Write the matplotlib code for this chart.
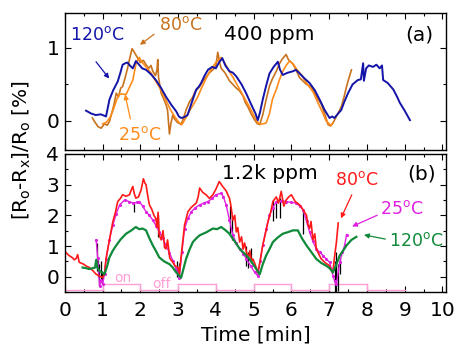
import matplotlib
matplotlib.use("Agg")
import matplotlib.pyplot as plt
from matplotlib.ticker import MultipleLocator

plt.rcParams['font.family'] = ['DejaVu Sans']
plt.rcParams['mathtext.fontset'] = 'dejavusans'

# ---------------- data: panel (a) 400 ppm ----------------
t_a120 = [0.56, 0.70, 0.82, 0.95, 1.05, 1.09, 1.18, 1.28, 1.40, 1.47, 1.53, 1.60, 1.66, 1.72, 1.80, 1.88,
          1.95, 2.05, 2.15, 2.28, 2.41, 2.55, 2.68, 2.82, 2.95, 3.02, 3.08, 3.16, 3.25, 3.36, 3.48, 3.55,
          3.61, 3.70, 3.79, 3.90, 4.00, 4.08, 4.17, 4.25, 4.36, 4.45, 4.54, 4.68, 4.80, 4.94, 5.05, 5.11,
          5.17, 5.24, 5.33, 5.42, 5.53, 5.64, 5.70, 5.77, 5.90, 6.04, 6.12, 6.22, 6.35, 6.48, 6.62, 6.75,
          6.88, 7.01, 7.08, 7.14, 7.22, 7.32, 7.40, 7.50, 7.62, 7.76, 7.84, 7.90, 7.92, 7.98, 8.05, 8.16,
          8.25, 8.34, 8.40, 8.43, 8.55, 8.70, 8.80, 8.87, 9.00, 9.14]
v_a120 = [0.14, 0.10, 0.08, 0.09, 0.07, 0.06, 0.29, 0.42, 0.54, 0.66, 0.77, 0.79, 0.80, 0.76, 0.72, 0.82,
          0.78, 0.72, 0.70, 0.64, 0.56, 0.45, 0.33, 0.22, 0.13, 0.06, 0.04, 0.05, 0.08, 0.25, 0.43, 0.47,
          0.52, 0.62, 0.70, 0.74, 0.72, 0.80, 0.86, 0.76, 0.68, 0.66, 0.61, 0.50, 0.38, 0.22, 0.10, 0.01,
          0.12, 0.29, 0.48, 0.65, 0.74, 0.81, 0.70, 0.63, 0.66, 0.68, 0.70, 0.65, 0.58, 0.52, 0.42, 0.29,
          0.15, 0.04, 0.06, 0.04, 0.09, 0.15, 0.26, 0.38, 0.50, 0.56, 0.57, 0.79, 0.55, 0.72, 0.76, 0.74,
          0.77, 0.72, 0.76, 0.56, 0.52, 0.43, 0.33, 0.25, 0.14, 0.01]

t_a80 = [0.73, 0.80, 0.88, 0.96, 1.05, 1.12, 1.18, 1.25, 1.30, 1.36, 1.42, 1.48, 1.53, 1.60, 1.66, 1.71,
         1.78, 1.84, 1.93, 2.00, 2.08, 2.15, 2.22, 2.28, 2.33, 2.40, 2.44, 2.46, 2.48, 2.55, 2.62, 2.68,
         2.72, 2.77, 2.81, 2.86, 2.90, 2.98, 3.08, 3.15, 3.21, 3.30, 3.38, 3.45, 3.57, 3.66, 3.74, 3.83,
         3.92, 4.00, 4.05, 4.10, 4.14, 4.24, 4.36, 4.45, 4.52, 4.63, 4.72, 4.78, 4.85, 4.95, 5.03, 5.10,
         5.16, 5.24, 5.33, 5.42, 5.50, 5.60, 5.68, 5.76, 5.86, 5.92, 6.04, 6.12, 6.22, 6.30, 6.40, 6.53,
         6.62, 6.70, 6.79, 6.88, 6.97, 7.04, 7.10, 7.18, 7.25, 7.32, 7.40, 7.46, 7.52, 7.59]
v_a80 = [0.04, -0.02, -0.08, -0.10, -0.04, -0.06, -0.01, 0.12, 0.22, 0.38, 0.33, 0.45, 0.47, 0.60, 0.72, 0.84,
         0.99, 0.94, 0.86, 0.80, 0.83, 0.77, 0.72, 0.76, 0.68, 0.62, 0.70, 0.84, 0.60, 0.38, 0.30, 0.22,
         0.15, -0.18, -0.03, 0.08, 0.03, -0.02, -0.05, 0.05, 0.15, 0.26, 0.32, 0.40, 0.47, 0.55, 0.60, 0.66,
         0.70, 0.76, 0.94, 0.80, 0.72, 0.66, 0.55, 0.50, 0.46, 0.41, 0.34, 0.25, 0.19, 0.08, 0.01, -0.04,
         -0.05, 0.08, 0.29, 0.48, 0.58, 0.68, 0.78, 0.85, 0.91, 0.84, 0.78, 0.70, 0.59, 0.55, 0.50, 0.47,
         0.38, 0.30, 0.23, 0.10, -0.05, -0.07, -0.03, 0.05, 0.12, 0.19, 0.34, 0.47, 0.58, 0.70]

t_a25 = [1.00, 1.10, 1.20, 1.30, 1.38, 1.44, 1.52, 1.62, 1.70, 1.80, 1.89, 1.97, 2.05, 2.15, 2.28, 2.40,
         2.55, 2.68, 2.80, 2.92, 3.02, 3.10, 3.18, 3.28, 3.40, 3.52, 3.62, 3.74, 3.86, 4.00, 4.14, 4.25,
         4.35, 4.45, 4.60, 4.75, 4.88, 4.98, 5.08, 5.16, 5.24, 5.33, 5.42, 5.50, 5.60, 5.68, 5.77, 5.86,
         5.95, 6.05, 6.15, 6.28, 6.40, 6.57, 6.70, 6.82, 6.92, 7.00, 7.05, 7.10]
v_a25 = [-0.04, -0.02, 0.05, 0.18, 0.30, 0.36, 0.37, 0.36, 0.45, 0.56, 0.80, 0.87, 0.80, 0.74, 0.66, 0.55,
         0.42, 0.28, 0.15, 0.05, -0.02, -0.05, 0.02, 0.12, 0.22, 0.33, 0.45, 0.58, 0.70, 0.80, 0.87, 0.78,
         0.68, 0.60, 0.46, 0.32, 0.20, 0.10, 0.00, -0.05, -0.04, -0.03, 0.10, 0.30, 0.43, 0.56, 0.68, 0.76,
         0.82, 0.78, 0.70, 0.62, 0.52, 0.40, 0.25, 0.12, 0.00, -0.04, -0.06, -0.03]

# ---------------- data: panel (b) 1.2k ppm ----------------
t_b80 = [0.00, 0.10, 0.20, 0.25, 0.30, 0.34, 0.38, 0.48, 0.58, 0.65, 0.74, 0.83, 0.92, 1.00, 1.05, 1.09,
         1.18, 1.27, 1.34, 1.40, 1.47, 1.53, 1.62, 1.71, 1.75, 1.80, 1.84, 1.88, 1.95, 2.02, 2.08, 2.12,
         2.15, 2.20, 2.24, 2.30, 2.36, 2.41, 2.44, 2.47, 2.50, 2.55, 2.60, 2.64, 2.68, 2.72, 2.78, 2.86,
         2.92, 3.00, 3.03, 3.10, 3.17, 3.26, 3.34, 3.42, 3.48, 3.53, 3.57, 3.65, 3.74, 3.83, 3.92, 4.00,
         4.09, 4.18, 4.27, 4.36, 4.40, 4.45, 4.50, 4.54, 4.58, 4.63, 4.68, 4.72, 4.76, 4.81, 4.86, 4.90,
         4.94, 4.98, 5.04, 5.11, 5.17, 5.24, 5.31, 5.38, 5.45, 5.51, 5.60, 5.66, 5.73, 5.80, 5.86, 5.93,
         6.00, 6.10, 6.22, 6.30, 6.40, 6.44, 6.48, 6.52, 6.57, 6.62, 6.66, 6.72, 6.78, 6.84, 6.90, 6.96,
         7.01, 7.06, 7.10, 7.14, 7.19, 7.24]
v_b80 = [0.83, 0.70, 0.62, 0.55, 0.60, 0.72, 0.47, 0.42, 0.34, 0.30, 0.20, 0.08, 0.02, -0.03, 0.10, 0.58,
         1.20, 1.79, 2.10, 2.45, 2.55, 2.67, 2.62, 2.67, 2.80, 2.94, 2.70, 2.56, 2.60, 2.83, 3.19, 3.05,
         3.00, 2.60, 2.34, 2.20, 2.00, 1.90, 1.60, 2.10, 1.35, 1.20, 1.50, 0.95, 0.91, 1.20, 0.60, 0.47,
         0.35, 0.30, 0.08, 0.90, 1.68, 2.12, 2.25, 2.34, 2.40, 2.60, 2.89, 2.75, 2.67, 2.55, 2.67, 2.85,
         3.10, 2.94, 2.80, 2.56, 2.30, 1.84, 2.00, 1.46, 1.60, 1.13, 1.30, 0.90, 1.10, 0.80, 0.60, 0.85,
         0.50, 0.58, 0.40, 0.14, 0.50, 1.02, 1.40, 1.79, 2.10, 2.45, 2.60, 2.40, 2.78, 2.30, 2.50, 2.60,
         2.67, 2.45, 2.34, 2.20, 2.00, 1.70, 1.57, 1.80, 1.20, 1.40, 0.91, 0.75, 0.60, 0.52, 0.45, 0.40,
         0.36, 0.20, 0.14, 0.63, 1.10, 1.75]

t_b25 = [0.83, 0.87, 0.92, 0.96, 1.00, 1.05, 1.09, 1.18, 1.27, 1.36, 1.45, 1.58, 1.70, 1.80, 1.90, 1.97,
         2.06, 2.15, 2.24, 2.33, 2.42, 2.50, 2.59, 2.68, 2.77, 2.86, 2.95, 3.03, 3.10, 3.17, 3.26, 3.35,
         3.46, 3.57, 3.68, 3.79, 3.90, 4.00, 4.14, 4.20, 4.27, 4.36, 4.45, 4.54, 4.63, 4.72, 4.81, 4.92,
         5.03, 5.11, 5.17, 5.24, 5.33, 5.42, 5.51, 5.60, 5.73, 5.86, 6.00, 6.13, 6.22, 6.31, 6.40, 6.48,
         6.57, 6.66, 6.75, 6.84, 6.92, 7.01, 7.06, 7.10, 7.15, 7.19, 7.28, 7.35, 7.41, 7.46]
v_b25 = [1.20, 0.60, -0.30, -0.10, -0.25, 0.10, 0.58, 1.20, 1.68, 2.05, 2.34, 2.50, 2.45, 2.40, 2.42, 2.45,
         2.30, 2.12, 2.00, 1.84, 1.65, 1.46, 1.25, 1.02, 0.78, 0.52, 0.25, -0.03, 0.80, 1.57, 1.90, 2.12,
         2.25, 2.34, 2.40, 2.45, 2.55, 2.67, 2.72, 2.60, 2.34, 1.85, 1.35, 1.10, 0.91, 0.75, 0.58, 0.35,
         0.14, 0.03, 0.50, 1.02, 1.55, 2.00, 2.25, 2.45, 2.48, 2.45, 2.42, 2.40, 2.30, 2.18, 1.80, 1.46,
         1.15, 0.91, 0.80, 0.69, 0.58, 0.47, 0.25, 0.03, -0.15, -0.25, 0.47, 0.80, 1.02, 1.37]

# black noise spikes of the 25 degC trace: time, lower, upper
spk_t = [0.84, 0.88, 0.91, 0.95, 0.98, 1.84, 2.46, 2.98, 3.02, 4.38, 4.43, 4.80, 4.86, 4.93, 5.52,
         5.58, 5.70, 6.30, 7.15, 7.19, 7.23, 7.28]
spk_lo = [0.20, 0.00, -0.30, -0.10, -0.25, 2.10, 1.30, 0.00, 0.05, 1.40, 1.20, 0.35, 0.30, 0.45, 1.80,
          1.90, 1.90, 1.40, -0.50, -0.50, -0.45, 0.10]
spk_hi = [1.10, 0.55, 0.40, 0.50, 0.20, 2.42, 2.00, 0.50, 0.45, 2.30, 2.00, 1.00, 0.80, 0.95, 2.50,
          2.45, 2.55, 2.20, 0.50, 0.80, 0.40, 0.60]

t_b120 = [0.47, 0.56, 0.65, 0.74, 0.80, 0.83, 0.86, 0.92, 0.98, 1.05, 1.12, 1.18, 1.27, 1.36, 1.48, 1.62,
          1.75, 1.88, 1.97, 2.06, 2.15, 2.24, 2.33, 2.42, 2.50, 2.63, 2.77, 2.86, 2.95, 3.08, 3.14, 3.21,
          3.30, 3.39, 3.48, 3.57, 3.75, 3.92, 4.03, 4.14, 4.25, 4.36, 4.50, 4.63, 4.76, 4.89, 4.98, 5.07,
          5.16, 5.24, 5.33, 5.42, 5.51, 5.64, 5.77, 5.90, 6.04, 6.17, 6.28, 6.40, 6.53, 6.66, 6.79, 6.92,
          7.01, 7.10, 7.19, 7.28, 7.37, 7.46, 7.59, 7.72]
v_b120 = [0.30, 0.28, 0.25, 0.28, 0.30, 0.55, 0.30, 0.19, 0.15, 0.08, 0.35, 0.63, 0.85, 1.02, 1.22, 1.40,
          1.50, 1.62, 1.55, 1.57, 1.51, 1.25, 1.02, 0.82, 0.63, 0.50, 0.41, 0.30, 0.14, -0.03, 0.25, 0.58,
          0.88, 1.13, 1.25, 1.35, 1.45, 1.57, 1.55, 1.62, 1.52, 1.40, 1.15, 0.91, 0.75, 0.58, 0.42, 0.25,
          0.08, 0.40, 0.69, 0.90, 1.13, 1.28, 1.40, 1.45, 1.51, 1.51, 1.25, 1.02, 0.80, 0.58, 0.45, 0.36,
          0.28, 0.14, 0.40, 0.69, 0.85, 1.02, 1.20, 1.30]

# gas on/off pulse (on = high level)
pulse_edges = [0, 1, 2, 3, 4, 5, 6, 7, 8, 9]
pulse_state = [0, 1, 0, 1, 0, 1, 0, 1, 0]
pulse_low, pulse_high = -0.42, -0.25

c_blue = '#1414a8'
c_brown = '#c8721e'
c_orange = '#ff8c1a'
c_red = '#ff1a1a'
c_mag = '#e020e0'
c_green = '#108a3a'
c_pink = '#ff9fd6'

fig = plt.figure(figsize=(4.6, 3.49), dpi=100)
ax1 = fig.add_axes([0.141, 0.570, 0.829, 0.393])
ax2 = fig.add_axes([0.141, 0.163, 0.829, 0.396])

FS = 14.5
FL = 12.5
for ax in (ax1, ax2):
    ax.set_xlim(0, 10.1)
    ax.xaxis.set_major_locator(MultipleLocator(1))
    ax.xaxis.set_minor_locator(MultipleLocator(0.5))
    ax.yaxis.set_minor_locator(MultipleLocator(0.5))
    ax.tick_params(which='both', direction='in', top=True, right=True, labelsize=FS)
    ax.tick_params(axis='y', pad=4)
    ax.tick_params(axis='x', pad=6.5)
    ax.tick_params(which='major', length=4, width=0.8)
    ax.tick_params(which='minor', length=2.5, width=0.8)
    for s in ax.spines.values():
        s.set_linewidth(1.0)

# panel (a)
ax1.plot(t_a80, v_a80, color=c_brown, lw=1.2)
ax1.plot(t_a25, v_a25, color=c_orange, lw=1.2)
ax1.plot(t_a120, v_a120, color=c_blue, lw=1.4)
ax1.set_ylim(-0.4, 1.48)
ax1.yaxis.set_major_locator(MultipleLocator(1))
ax1.tick_params(labelbottom=False)
ax1.text(5.42, 1.18, '400 ppm', ha='center', va='center', fontsize=FS)
ax1.text(9.4, 1.18, '(a)', ha='center', va='center', fontsize=FS)
ax1.text(0.86, 1.18, '120$^\\mathregular{o}$C', color=c_blue, ha='center', va='center', fontsize=FL)
ax1.text(3.08, 1.32, '80$^\\mathregular{o}$C', color=c_brown, ha='center', va='center', fontsize=FL)
ax1.text(1.97, -0.19, '25$^\\mathregular{o}$C', color=c_orange, ha='center', va='center', fontsize=FL)
ax1.annotate('', xy=(1.22, 0.55), xytext=(0.78, 0.84),
             arrowprops=dict(arrowstyle='-|>', color=c_blue, lw=0.9, mutation_scale=7))
ax1.annotate('', xy=(1.93, 1.02), xytext=(2.42, 1.21),
             arrowprops=dict(arrowstyle='-|>', color=c_brown, lw=0.9, mutation_scale=7))
ax1.annotate('', xy=(1.58, 0.40), xytext=(1.75, -0.01),
             arrowprops=dict(arrowstyle='-|>', color=c_orange, lw=0.9, mutation_scale=7))

# panel (b)
for i, st in enumerate(pulse_state):
    lvl = pulse_high if st else pulse_low
    ax2.plot([pulse_edges[i], pulse_edges[i + 1]], [lvl, lvl], color=c_pink, lw=1.0)
    if i > 0:
        ax2.plot([pulse_edges[i], pulse_edges[i]], [pulse_low, pulse_high], color=c_pink, lw=1.0)
ax2.vlines(spk_t, spk_lo, spk_hi, color='black', lw=0.9)
ax2.plot(t_b25, v_b25, color=c_mag, lw=1.0, marker='.', ms=2.5)
ax2.plot(t_b80, v_b80, color=c_red, lw=1.2)
ax2.plot(t_b120, v_b120, color=c_green, lw=1.6)
ax2.set_ylim(-0.5, 4)
ax2.yaxis.set_major_locator(MultipleLocator(1))
ax2.set_xticks(range(0, 11))
ax2.set_xlabel('Time [min]', fontsize=FS, labelpad=4)
ax2.text(1.53, -0.05, 'on', color=c_pink, ha='center', va='center', fontsize=10)
ax2.text(2.55, -0.22, 'off', color=c_pink, ha='center', va='center', fontsize=10)
ax2.text(5.42, 3.36, '1.2k ppm', ha='center', va='center', fontsize=FS)
ax2.text(9.45, 3.36, '(b)', ha='center', va='center', fontsize=FS)
ax2.text(7.72, 3.14, '80$^\\mathregular{o}$C', color=c_red, ha='center', va='center', fontsize=FL)
ax2.text(8.92, 2.2, '25$^\\mathregular{o}$C', color=c_mag, ha='center', va='center', fontsize=FL)
ax2.text(9.31, 1.16, '120$^\\mathregular{o}$C', color=c_green, ha='center', va='center', fontsize=FL)
ax2.annotate('', xy=(7.28, 1.82), xytext=(7.63, 2.75),
             arrowprops=dict(arrowstyle='-|>', color=c_red, lw=0.9, mutation_scale=7))
ax2.annotate('', xy=(7.54, 1.60), xytext=(8.34, 2.04),
             arrowprops=dict(arrowstyle='-|>', color=c_mag, lw=0.9, mutation_scale=7))
ax2.annotate('', xy=(7.85, 1.38), xytext=(8.56, 1.21),
             arrowprops=dict(arrowstyle='-|>', color=c_green, lw=0.9, mutation_scale=7))

fig.text(0.048, 0.57, '[R$_\\mathregular{o}$-R$_\\mathregular{x}$]/R$_\\mathregular{o}$ [%]',
         rotation=90, ha='center', va='center', fontsize=FS)

fig.savefig('out.png', dpi=100)
